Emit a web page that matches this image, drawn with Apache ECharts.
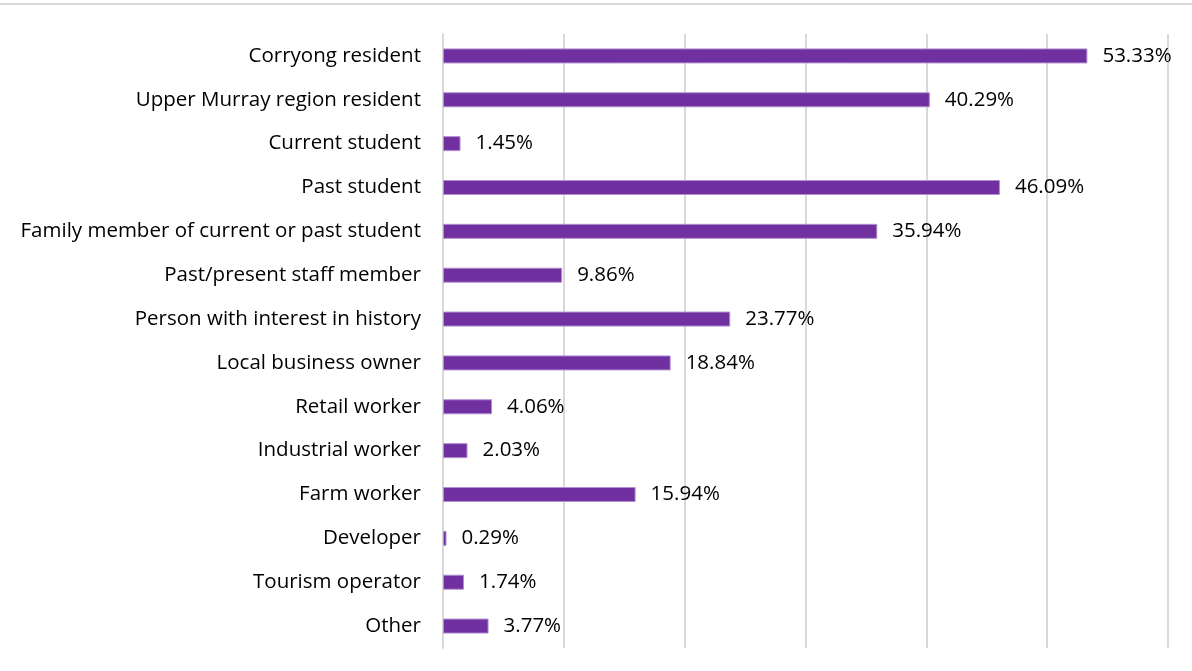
<!DOCTYPE html>
<html>
<head>
<meta charset="utf-8">
<script src="https://cdn.jsdelivr.net/npm/echarts@6/dist/echarts.min.js"></script>
<style>
  html, body { margin: 0; padding: 0; background: #fff; }
  #chart { width: 1192px; height: 671px; }
</style>
</head>
<body>
<div id="chart"></div>
<script>
// categories top to bottom
let categories = [
  "Corryong resident",
  "Upper Murray region resident",
  "Current student",
  "Past student",
  "Family member of current or past student",
  "Past/present staff member",
  "Person with interest in history",
  "Local business owner",
  "Retail worker",
  "Industrial worker",
  "Farm worker",
  "Developer",
  "Tourism operator",
  "Other"
];
let percents = [53.33, 40.29, 1.45, 46.09, 35.94, 9.86, 23.77, 18.84, 4.06, 2.03, 15.94, 0.29, 1.74, 3.77];

let myChart = echarts.init(document.getElementById("chart"));
let font = "'Open Sans', sans-serif";
let option = {
  animation: false,
  grid: { left: 443, right: 24, top: 34, bottom: 23 },
  graphic: [
    {
      type: "line",
      shape: { x1: 0, y1: 4, x2: 1192, y2: 4 },
      style: { stroke: "#d9d9d9", lineWidth: 2 }
    }
  ],
  xAxis: {
    type: "value",
    min: 0,
    max: 60,
    interval: 10,
    axisLabel: { show: false },
    axisLine: { show: false },
    axisTick: { show: false },
    splitLine: { lineStyle: { color: "#d9d9d9", width: 2 } }
  },
  yAxis: {
    type: "category",
    inverse: true,
    data: categories,
    axisLine: { lineStyle: { color: "#d9d9d9", width: 2 } },
    axisTick: { length: 7, lineStyle: { color: "#d9d9d9", width: 2 } },
    axisLabel: { color: "#000", fontSize: 20.5, fontFamily: font, margin: 22, padding: [3, 0, 0, 0] }
  },
  series: [
    {
      type: "bar",
      data: percents,
      barWidth: 15,
      itemStyle: { color: "#7030a0", borderColor: "#b08fd0", borderWidth: 1 },
      label: {
        show: true,
        position: "right",
        distance: 15,
        color: "#000",
        fontSize: 20.5,
        fontFamily: font,
        padding: [3, 0, 0, 0],
        formatter: p => p.value.toFixed(2) + "%"
      }
    }
  ]
};
myChart.setOption(option);
</script>
</body>
</html>
